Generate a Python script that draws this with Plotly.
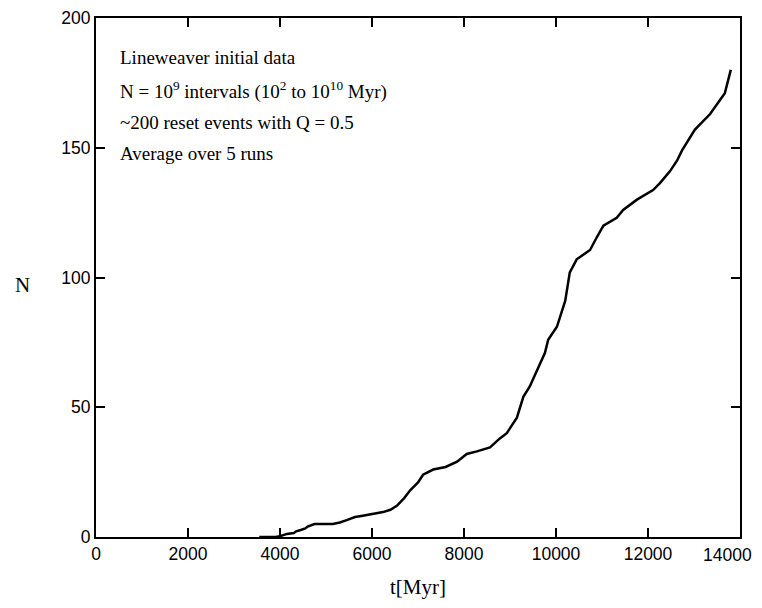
import plotly.graph_objects as go

t_myr = [3550, 3900, 4000, 4100, 4150, 4300, 4350, 4450, 4550, 4600, 4700, 4750, 5150,
         5300, 5450, 5630, 5800, 6000, 6240, 6400, 6540, 6700, 6830, 7000, 7110, 7330,
         7600, 7850, 8060, 8280, 8500, 8565, 8780, 8930, 9150, 9290, 9430, 9580, 9760,
         9830, 10020, 10200, 10300, 10450, 10740, 10890, 11030, 11320, 11460, 11760,
         12110, 12260, 12480, 12630, 12740, 13020, 13350, 13670, 13800]
n_vals = [0, 0, 0.3, 0.8, 1.2, 1.5, 2.2, 2.7, 3.3, 4, 4.6, 5, 5,
          5.6, 6.5, 7.7, 8.2, 8.8, 9.6, 10.5, 12, 15, 18, 21, 24, 26,
          27, 29, 32, 33, 34, 34.5, 38, 40, 46, 54, 58, 64, 71,
          76, 81, 91, 102, 107, 110.6, 115.6, 120, 123, 126, 130,
          133.7, 136.4, 141, 145, 149, 157, 163, 171, 180]

x_ticks = [0, 2000, 4000, 6000, 8000, 10000, 12000, 14000]
x_labels = ["0", "2000", "4000", "6000", "8000", "10000", "12000", "14000"]
y_ticks = [0, 50, 100, 150, 200]
y_labels = ["0", "50", "100", "150", "200"]

# page body has an 8px margin; figure coordinates below compensate for it
OFF = 8
W, H = 762 - OFF, 608 - 2 * OFF
L, R, T, B = 96 - OFF, 740 - OFF, 18 - OFF, 537 - OFF

fig = go.Figure()
fig.add_trace(go.Scatter(x=t_myr, y=n_vals, mode="lines",
                         line=dict(color="black", width=2.5), showlegend=False))

tick_font = dict(family="Liberation Sans", size=17.5, color="black")
axis_common = dict(showline=True, linecolor="black", linewidth=2, mirror="ticks",
                   ticks="inside", ticklen=9, tickwidth=2, tickcolor="black",
                   showgrid=False, zeroline=False, automargin=False,
                   ticklabeloverflow="allow", tickfont=tick_font)
# last x label is drawn as a right-aligned annotation so it is not cut at the page edge
x_shown = x_labels[:-1] + [""]
fig.update_xaxes(range=[0, 14000], tickvals=x_ticks, ticktext=x_shown,
                 title=dict(text="t[Myr]", font=dict(family="Liberation Serif", size=21, color="black"), standoff=16),
                 **axis_common)
fig.update_yaxes(range=[0, 200], tickvals=y_ticks, ticktext=y_labels, **axis_common)

fig.add_annotation(text=x_labels[-1], xref="x", yref="paper", x=x_ticks[-1], y=0,
                   xanchor="right", yanchor="top", xshift=14, yshift=-6,
                   showarrow=False, font=tick_font)

fig.add_annotation(text="N", xref="paper", yref="paper",
                   x=(22 - OFF - L) / (R - L), y=(B - (285 - OFF)) / (B - T),
                   xanchor="center", yanchor="middle", showarrow=False,
                   font=dict(family="Liberation Serif", size=21, color="black"))

lines = ["Lineweaver initial data",
         "N = 10<sup>9</sup> intervals (10<sup>2</sup> to 10<sup>10</sup> Myr)",
         "~200 reset events with Q = 0.5",
         "Average over 5 runs"]
ys = [57, 90, 122, 153]
for txt, yp in zip(lines, ys):
    fig.add_annotation(text=txt, xref="paper", yref="paper",
                       x=(118 - OFF - L) / (R - L), y=(B - (yp - OFF)) / (B - T),
                       xanchor="left", yanchor="middle", showarrow=False,
                       font=dict(family="Liberation Serif", size=19, color="black"))

fig.update_layout(width=W, height=H, plot_bgcolor="white", paper_bgcolor="white",
                  template="none",
                  margin=dict(l=L, r=W - R, t=T, b=H - B))
fig.write_html("out.html")
